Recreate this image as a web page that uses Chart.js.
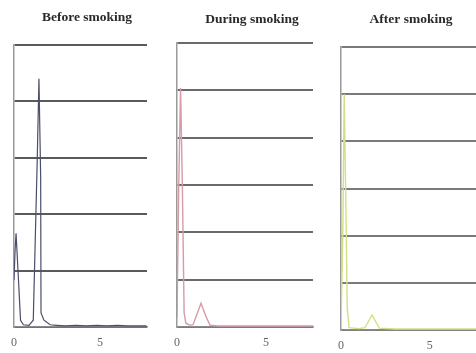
<!DOCTYPE html>
<html><head><meta charset="utf-8">
<script src="https://cdn.jsdelivr.net/npm/chart.js@4"></script>
<style>
html,body{margin:0;padding:0;background:#fff;width:476px;height:353px;overflow:hidden;}
canvas{position:absolute;top:0;}
</style></head><body>
<canvas id="c1" width="160" height="353" style="left:0px;width:160px;height:353px"></canvas>
<canvas id="c2" width="160" height="353" style="left:160px;width:160px;height:353px"></canvas>
<canvas id="c3" width="156" height="353" style="left:320px;width:156px;height:353px"></canvas>
<script>
// ---- data ----
const panelTitles = ["Before smoking", "During smoking", "After smoking"];
const xTickValues = [0, 5];

const beforeX = [0, 0.06, 0.12, 0.25, 0.38, 0.55, 0.87, 1.12, 1.35, 1.45, 1.55, 1.57, 1.74, 2.1, 2.5, 3.0, 3.6, 4.2, 4.8, 5.4, 6.0, 6.6, 7.2, 7.7];
const beforeY = [0.83, 1.35, 1.66, 0.9, 0.12, 0.04, 0.03, 0.12, 2.96, 4.4, 2.65, 0.25, 0.12, 0.04, 0.03, 0.02, 0.03, 0.02, 0.03, 0.02, 0.03, 0.02, 0.02, 0.02];

const duringX = [0, 0.1, 0.2, 0.3, 0.4, 0.5, 0.7, 0.9, 1.1, 1.35, 1.6, 1.85, 2.3, 3.0, 4.0, 5.0, 6.0, 7.0, 7.7];
const duringY = [0.2, 3.0, 5.05, 3.0, 0.3, 0.08, 0.04, 0.05, 0.25, 0.5, 0.25, 0.04, 0.02, 0.02, 0.02, 0.02, 0.02, 0.02, 0.02];

const afterX = [0, 0.1, 0.18, 0.28, 0.35, 0.45, 1.0, 1.35, 1.75, 2.15, 3.0, 4.0, 5.0, 6.0, 7.0, 7.7];
const afterY = [0.1, 2.0, 5.0, 2.5, 0.5, 0.05, 0.03, 0.05, 0.32, 0.04, 0.02, 0.02, 0.02, 0.02, 0.02, 0.02];

// ---- drawing ----
const titlePlugin = {
  id: 'panelTitle',
  afterDraw(chart, args, opts) {
    const ctx = chart.ctx;
    ctx.save();
    ctx.font = opts.font;
    ctx.fillStyle = opts.color;
    ctx.textAlign = 'center';
    ctx.textBaseline = 'middle';
    ctx.fillText(opts.text, opts.x, opts.y);
    ctx.restore();
  }
};

function makePanel(id, title, xs, ys, lineColor, lineW, yMax, xMax, pad, xAxisH, titlePos, gridColor) {
  const pts = xs.map((x, i) => ({x: x, y: ys[i]}));
  return new Chart(document.getElementById(id), {
    type: 'line',
    data: { datasets: [{ data: pts, borderColor: lineColor, borderWidth: lineW, pointRadius: 0, tension: 0, fill: false }] },
    options: {
      responsive: false, animation: false, devicePixelRatio: 1,
      layout: { padding: pad },
      plugins: {
        legend: { display: false }, tooltip: { enabled: false }, title: { display: false },
        panelTitle: { text: title, x: titlePos[0], y: titlePos[1], font: 'bold 13.5px "Liberation Serif", "DejaVu Serif", serif', color: '#2a2a2a' }
      },
      scales: {
        x: {
          type: 'linear', min: 0, max: xMax,
          afterBuildTicks: s => { s.ticks = xTickValues.map(v => ({value: v})); },
          afterFit: s => { s.height = xAxisH; },
          grid: { display: false, drawTicks: false },
          border: { display: true, color: '#8a8a8a', width: 1.5 },
          ticks: { padding: 9, color: '#666', font: { family: '"Liberation Serif", serif', size: 12 }, maxRotation: 0, autoSkip: false }
        },
        y: {
          min: 0, max: yMax,
          ticks: { display: false, stepSize: 1 },
          afterFit: s => { s.width = 0; },
          grid: { color: gridColor, lineWidth: 2, drawTicks: false },
          border: { display: true, color: '#9a9a9a', width: 1.5 }
        }
      }
    },
    plugins: [titlePlugin]
  });
}

makePanel('c1', panelTitles[0], beforeX, beforeY, '#4a4e68', 1.2, 5, 7.73, {left: 14, right: 13, top: 45, bottom: 0}, 26, [87, 18], '#5a5a5a');
makePanel('c2', panelTitles[1], duringX, duringY, '#d59ba6', 1.4, 6, 7.64, {left: 17, right: 7, top: 43, bottom: 0}, 26, [92, 20], '#6a6a6a');
makePanel('c3', panelTitles[2], afterX, afterY, '#d3df86', 1.4, 6, 7.6, {left: 21, right: 0, top: 47, bottom: 0}, 23, [91, 20], '#7a7a7a');
</script>
</body></html>
